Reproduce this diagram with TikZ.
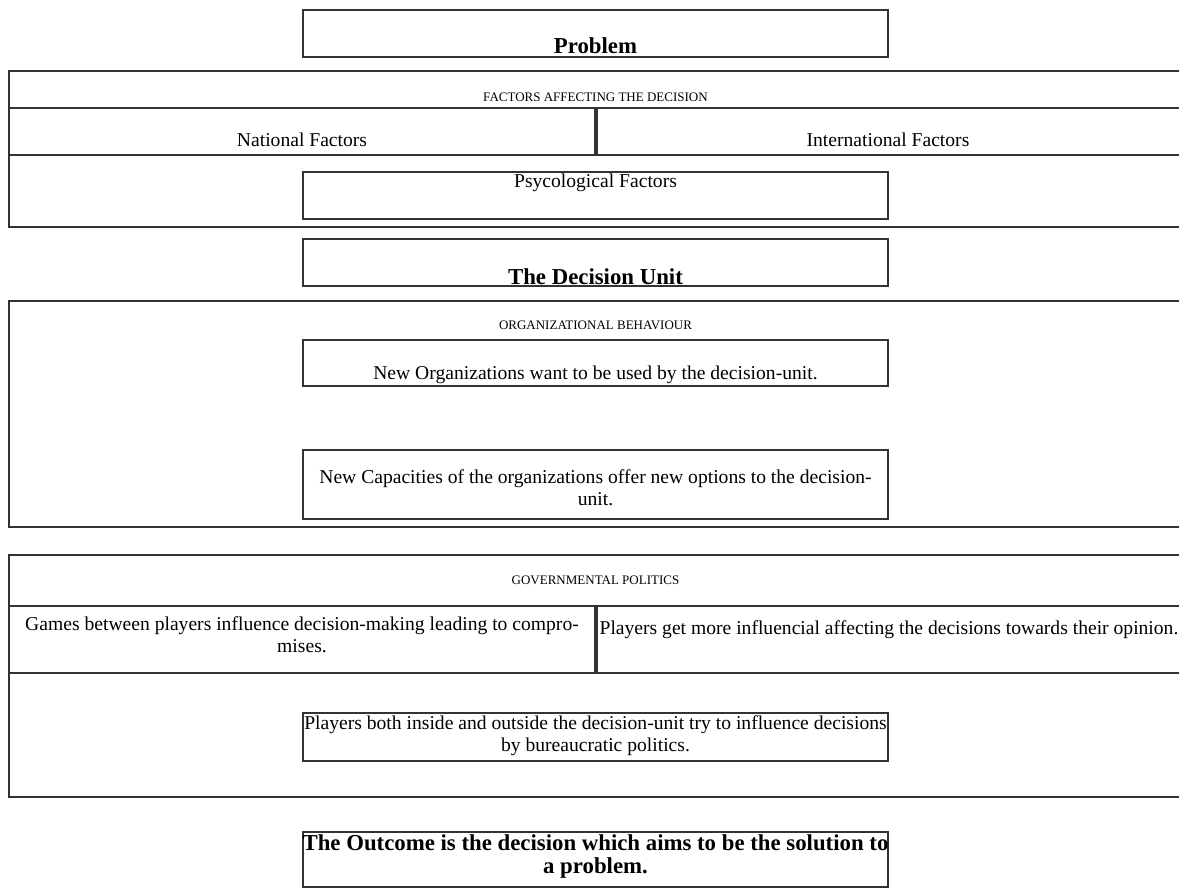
\documentclass[tikz,border=0pt]{standalone}
\usepackage{fontspec}
\setmainfont{Liberation Serif}
\begin{document}
\begin{tikzpicture}[x=1pt,y=-1pt,
  box/.style={draw=black!80, line width=1.3pt, inner sep=0pt, outer sep=0pt},
  txt/.style={inner sep=0pt, font=\fontsize{19.6}{22}\selectfont, align=center},
  btxt/.style={inner sep=0pt, font=\fontsize{22.8}{23}\selectfont\bfseries, align=center},
  caps/.style={inner sep=0pt, font=\fontsize{13}{15}\selectfont}]
\useasboundingbox (0,0) rectangle (1179,888);
% boxes
\node[box, minimum width=585, minimum height=47] (problem) at (595.5,33.5) {};
\node[box, minimum width=1181, minimum height=156] (factors) at (599.5,149) {};
\node[box, minimum width=586, minimum height=47] (national) at (302,131.5) {};
\node[box, minimum width=593, minimum height=47] (international) at (893.5,131.5) {};
\node[box, minimum width=585, minimum height=47] (psy) at (595.5,195.5) {};
\node[box, minimum width=585, minimum height=47] (decision) at (595.5,262.5) {};
\node[box, minimum width=1181, minimum height=226] (org) at (599.5,414) {};
\node[box, minimum width=585, minimum height=46] (neworg) at (595.5,363) {};
\node[box, minimum width=585, minimum height=69] (capac) at (595.5,484.5) {};
\node[box, minimum width=1181, minimum height=242] (gov) at (599.5,676) {};
\node[box, minimum width=586, minimum height=67] (games) at (302,639.5) {};
\node[box, minimum width=593, minimum height=67] (playersget) at (893.5,639.5) {};
\node[box, minimum width=585, minimum height=48] (playersboth) at (595.5,737) {};
\node[box, minimum width=585, minimum height=55] (outcome) at (595.5,859.5) {};
% texts
\node[btxt, anchor=base] (tproblem) at (595.5,54) {Problem};
\node[caps, anchor=base] (tfactors) at (595.5,101.5) {FACTORS AFFECTING THE DECISION};
\node[txt, anchor=base] (tnational) at (302,147) {National Factors};
\node[txt, anchor=base] (tinternational) at (888,147) {International Factors};
\node[txt, anchor=base] (tpsy) at (595.5,188) {Psycological Factors};
\node[btxt, anchor=base] (tdecision) at (595.5,284) {The Decision Unit};
\node[caps, anchor=base] (torg) at (595.5,329.5) {ORGANIZATIONAL BEHAVIOUR};
\node[txt, anchor=base] (tneworg) at (595.5,379) {New Organizations want to be used by the decision-unit.};
\node[txt] (tcapac) at (595.5,487.5) {New Capacities of the organizations offer new options to the decision-\\unit.};
\node[caps, anchor=base] (tgov) at (595.5,584.5) {GOVERNMENTAL POLITICS};
\node[txt] (tgames) at (302,634.5) {Games between players influence decision-making leading to compro-\\mises.};
\node[txt] (tplayersget) at (889,630) {Players get more influencial affecting the decisions towards their opinion.};
\node[txt] (tplayersboth) at (595.5,735.5) {Players both inside and outside the decision-unit try to influence decisions\\by bureaucratic politics.};
\node[btxt] (toutcome) at (595.5,857) {The Outcome is the decision which aims to be the solution to\\a problem.};
\end{tikzpicture}
\end{document}
